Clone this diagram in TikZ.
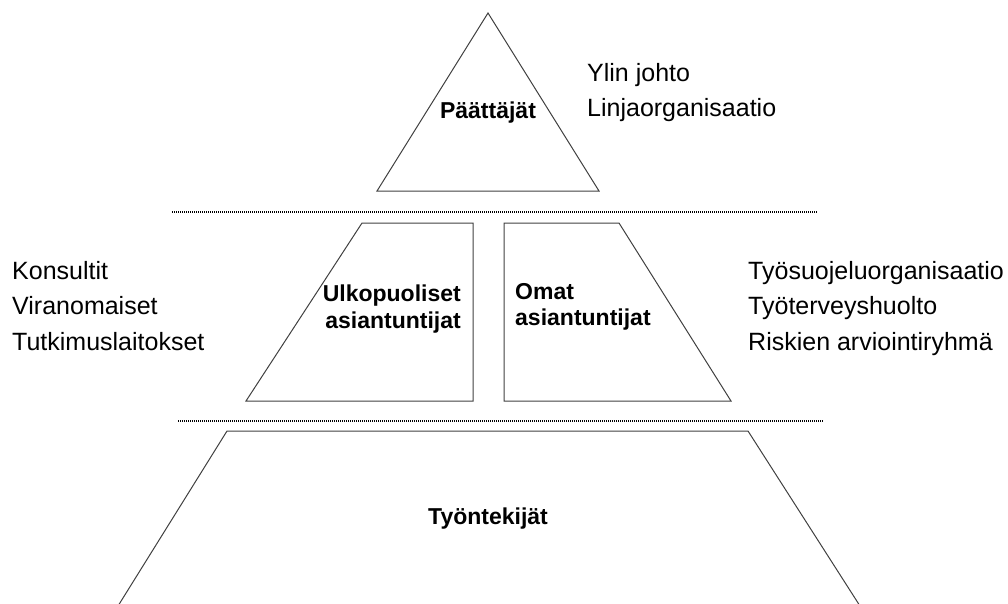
\documentclass[tikz,border=0pt]{standalone}
\usepackage{fontspec}
\setmainfont{Liberation Sans}
\begin{document}
\begin{tikzpicture}[x=1pt,y=-1pt,
  outline/.style={draw=black!75,line width=1pt,line join=miter},
  divider/.style={draw=black,line width=1.6pt,dash pattern=on 1pt off 1pt},
  sidelist/.style={inner sep=0pt,align=left,font=\fontsize{25}{35.5}\selectfont},
  levelname/.style={inner sep=0pt,font=\fontsize{23}{26.5}\selectfont\bfseries}]
\useasboundingbox (0,0) rectangle (1008,603);

% top level: decision makers
\coordinate (apex) at (488,13);
\coordinate (tbl) at (377,191);
\coordinate (tbr) at (599,191);
\draw[outline] (apex) -- (tbr) -- (tbl) -- cycle;
\node[levelname] (paattajat) at (488,113) {Päättäjät};
\node[sidelist,anchor=north west] (johto) at (587,63) {Ylin johto\\Linjaorganisaatio};

% separators between the levels
\coordinate (d1a) at (172,212);
\coordinate (d1b) at (817,212);
\draw[divider] (d1a) -- (d1b);
\coordinate (d2a) at (178,421);
\coordinate (d2b) at (824,421);
\draw[divider] (d2a) -- (d2b);

% middle level: external experts
\coordinate (ltl) at (362,223);
\coordinate (ltr) at (473,223);
\coordinate (lbr) at (473,401);
\coordinate (lbl) at (246,401);
\draw[outline] (ltl) -- (ltr) -- (lbr) -- (lbl) -- cycle;
\node[levelname,align=right,anchor=east] (ulko) at (461,309) {Ulkopuoliset\\asiantuntijat};
\node[sidelist,anchor=north west] (ulkolist) at (12,261) {Konsultit\\Viranomaiset\\Tutkimuslaitokset};

% middle level: own experts
\coordinate (rtl) at (504,223);
\coordinate (rtr) at (619,223);
\coordinate (rbr) at (731,401);
\coordinate (rbl) at (504,401);
\draw[outline] (rtl) -- (rtr) -- (rbr) -- (rbl) -- cycle;
\node[levelname,align=left,anchor=west] (omat) at (515,307) {Omat\\asiantuntijat};
\node[sidelist,anchor=north west] (omatlist) at (748,261) {Työsuojeluorganisaatio\\Työterveyshuolto\\Riskien arviointiryhmä};

% bottom level: employees
\coordinate (btl) at (227,431);
\coordinate (btr) at (748,431);
\coordinate (bbr) at (860,606);
\coordinate (bbl) at (118,606);
\draw[outline] (bbl) -- (btl) -- (btr) -- (bbr);
\node[levelname] (tyontekijat) at (488,519) {Työntekijät};
\end{tikzpicture}
\end{document}
